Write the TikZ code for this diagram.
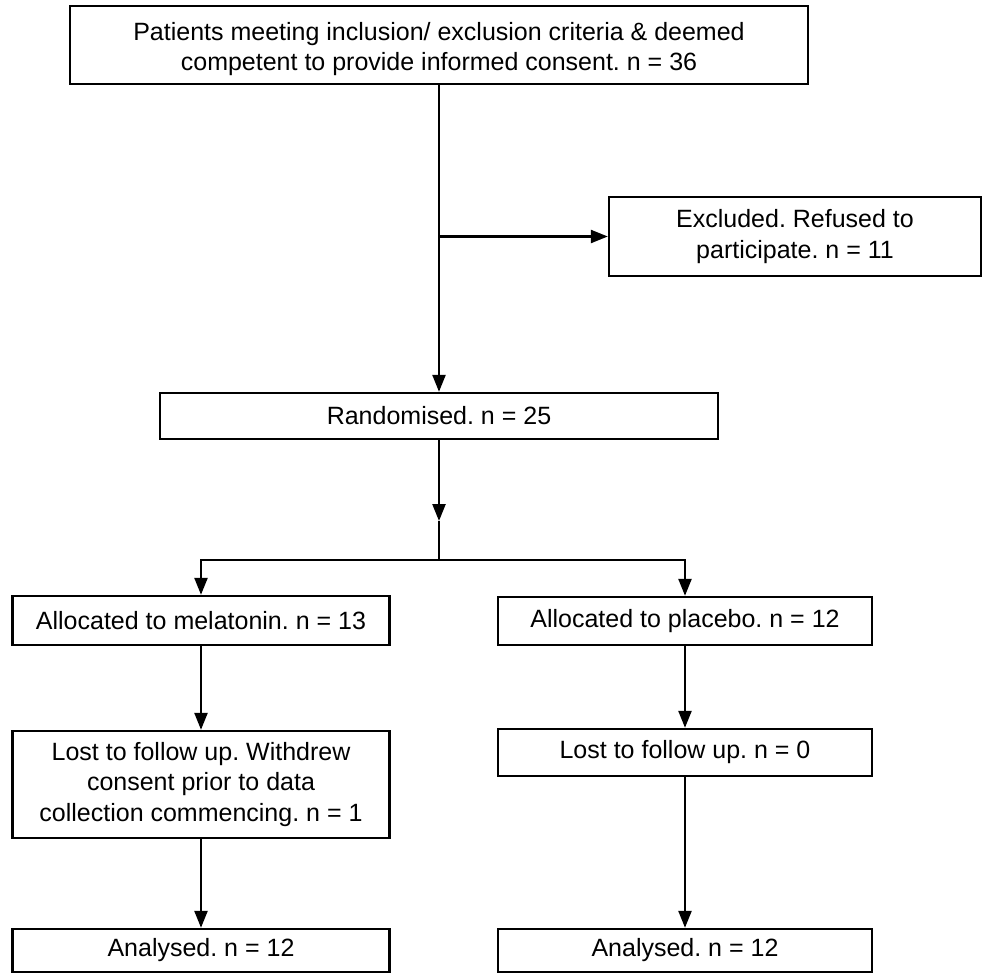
\documentclass[tikz,border=0pt]{standalone}
\usepackage{fontspec}
\setmainfont{Liberation Sans}
\usetikzlibrary{arrows.meta}
\begin{document}
\frenchspacing
\begin{tikzpicture}[x=1pt,y=-1pt,
  box/.style={draw,line width=2.4pt,rectangle,align=center,inner sep=0pt,
    font=\fontsize{25}{30.5}\selectfont},
  link/.style={line width=2.4pt},
  arr/.style={line width=2.4pt,-{Triangle[length=17pt,width=13pt]}}]
\useasboundingbox (0,0) rectangle (983,974);
\node[box,minimum width=738pt,minimum height=78pt] (top) at (439,45)
  {\rule{0pt}{26pt}Patients meeting inclusion/ exclusion criteria \& deemed\\competent to provide informed consent. n = 36};
\node[box,minimum width=372pt,minimum height=79pt] (excl) at (795,236.5)
  {Excluded. Refused to\\participate. n = 11};
\node[box,minimum width=558pt,minimum height=46pt] (rand) at (439,416)
  {Randomised. n = 25};
\node[box,minimum width=377pt,minimum height=49pt] (allocM) at (201,620.5)
  {Allocated to melatonin. n = 13};
\node[box,minimum width=374pt,minimum height=48pt] (allocP) at (685,621)
  {Allocated to placebo. n = 12};
\node[box,minimum width=377pt,minimum height=107pt] (lostM) at (201,784.5)
  {Lost to follow up. Withdrew\\consent prior to data\\collection commencing. n = 1};
\node[box,minimum width=374pt,minimum height=47pt] (lostP) at (685,752.5)
  {Lost to follow up. n = 0};
\node[box,minimum width=377pt,minimum height=43pt] (anaM) at (201,950.5)
  {Analysed. n = 12};
\node[box,minimum width=374pt,minimum height=43pt] (anaP) at (685,950.5)
  {Analysed. n = 12};
\coordinate (j1) at (439,236.5);
\coordinate (mid) at (439,521);
\coordinate (split) at (439,560);
\draw[arr] (top.south) -- (rand.north);
\draw[arr] (j1) -- (excl.west);
\draw[arr] (rand.south) -- (mid);
\draw[link] (mid) -- (split);
\draw[arr] (split) -| (allocM.north);
\draw[arr] (split) -| (allocP.north);
\draw[arr] (allocM.south) -- (lostM.north);
\draw[arr] (allocP.south) -- (lostP.north);
\draw[arr] (lostM.south) -- (anaM.north);
\draw[arr] (lostP.south) -- (anaP.north);
\end{tikzpicture}
\end{document}
